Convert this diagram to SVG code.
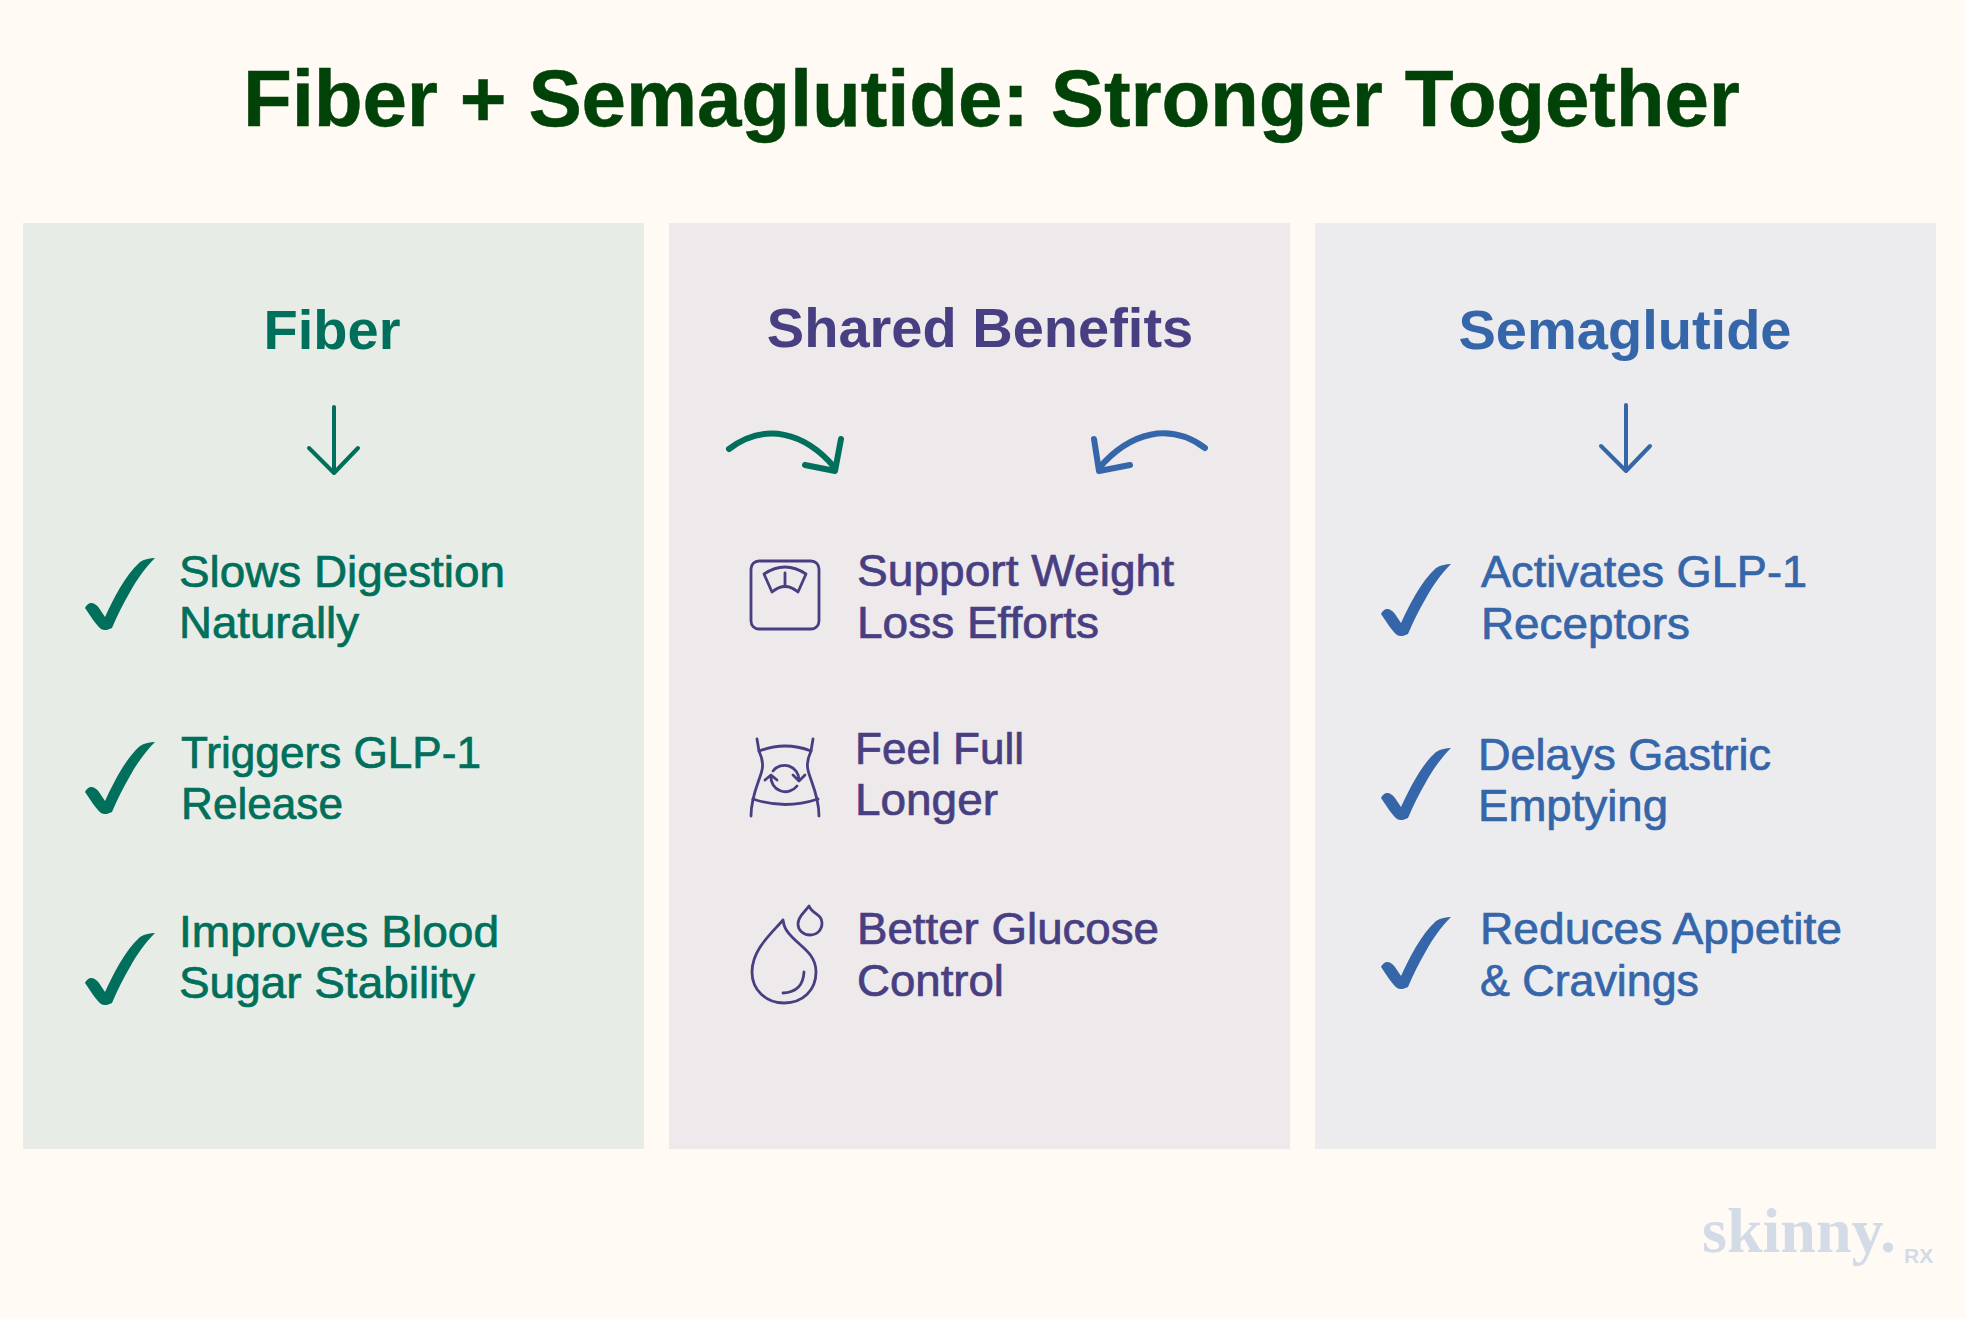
<svg xmlns="http://www.w3.org/2000/svg" width="1965" height="1318" viewBox="0 0 1965 1318">
<style>
text{font-family:"Liberation Sans",Arial,sans-serif}
.t{font-size:80px;font-weight:700;fill:#004207;stroke:#004207;stroke-width:.5}
.h{font-size:56px;font-weight:700;text-anchor:middle}
.b{font-size:43.500px;stroke-width:.7}
.g{fill:#006f5c;stroke:#006f5c}
.p{fill:#483f82;stroke:#483f82}
.u{fill:#3666aa;stroke:#3666aa}
.h.g,.h.p,.h.u,.n{stroke-width:0}
.ln{fill:none;stroke-linecap:round;stroke-linejoin:round}
.ic{fill:none;stroke:#483f82;stroke-width:2.8;stroke-linecap:round;stroke-linejoin:round}
</style>
<defs>
<path id="chk" d="M105 617C113 600 125 575 140 562C145 559 150 558 155 558C146 567 137 579 130 592C123 604 117 616 112 628C108 630 104 631 101 629C96 625 90 615 85 608C86 605 89 603 91 603C94 603 97 605 99 608Z"/>
</defs>
<rect width="1965" height="1318" fill="#fffaf4"/>
<text class="t" x="243" y="126" textLength="1497">Fiber + Semaglutide: Stronger Together</text>
<g id="panel-fiber">
<rect x="23" y="223" width="621" height="926" fill="#e7ede6"/>
<text class="h g" x="332" y="349">Fiber</text>
<use href="#chk" class="g n"/>
<use href="#chk" y="184" class="g n"/>
<use href="#chk" y="375" class="g n"/>
<text class="b g" x="179" y="587" textLength="326" lengthAdjust="spacingAndGlyphs">Slows Digestion</text>
<text class="b g" x="179" y="638" textLength="180" lengthAdjust="spacingAndGlyphs">Naturally</text>
<text class="b g" x="181" y="768" textLength="300" lengthAdjust="spacingAndGlyphs">Triggers GLP-1</text>
<text class="b g" x="181" y="819" textLength="162" lengthAdjust="spacingAndGlyphs">Release</text>
<text class="b g" x="179" y="947" textLength="320" lengthAdjust="spacingAndGlyphs">Improves Blood</text>
<text class="b g" x="179" y="998" textLength="296" lengthAdjust="spacingAndGlyphs">Sugar Stability</text>
</g>
<g id="panel-shared">
<rect x="669" y="223" width="621" height="926" fill="#eee9ea"/>
<text class="h p" x="980" y="347">Shared Benefits</text>
<g id="icon-scale" class="ic">
<rect x="751" y="561" width="68" height="68" rx="8"/>
<path d="M764 574Q785 560 806 574L798 592Q785 581 772 592Z"/>
<path d="M785 573V586"/>
</g>
<g id="icon-waist" class="ic">
<path d="M757 739Q758 745 759 751Q764 762 762 770C760 780 751 795 751 816"/>
<path d="M813 739Q812 745 811 751Q806 762 808 770C810 780 819 795 819 816"/>
<path d="M759 751Q785 741 811 751"/>
<path d="M753 799Q785 810 818 799"/>
<path d="M773 771A14.500 14.500 0 0 1 799 780M793 775L799 781L805 775"/>
<path d="M797 786A14.500 14.500 0 0 1 771 776M765 780L771 775L777 780"/>
</g>
<g id="icon-drop" class="ic">
<path d="M783 920C770 935 752 950 752 972C752 990 766 1003 784 1003C803 1003 816 990 816 972C816 955 803 948 793 938C787 932 784 928 783 920Z"/>
<path d="M804 972Q803 992 783 993"/>
<path d="M809 906C805 912 798 916 798 924C798 930 803 935 810 935C817 935 822 930 822 923C822 914 812 914 809 906Z"/>
</g>
<text class="b p" x="857" y="586" textLength="317" lengthAdjust="spacingAndGlyphs">Support Weight</text>
<text class="b p" x="857" y="638" textLength="242" lengthAdjust="spacingAndGlyphs">Loss Efforts</text>
<text class="b p" x="855" y="764" textLength="169" lengthAdjust="spacingAndGlyphs">Feel Full</text>
<text class="b p" x="855" y="815" textLength="143" lengthAdjust="spacingAndGlyphs">Longer</text>
<text class="b p" x="857" y="944" textLength="302" lengthAdjust="spacingAndGlyphs">Better Glucose</text>
<text class="b p" x="857" y="996" textLength="147" lengthAdjust="spacingAndGlyphs">Control</text>
</g>
<g id="panel-semaglutide">
<rect x="1315" y="223" width="621" height="926" fill="#ececee"/>
<text class="h u" x="1625" y="349">Semaglutide</text>
<use href="#chk" x="1296" y="6" class="u n"/>
<use href="#chk" x="1296" y="190" class="u n"/>
<use href="#chk" x="1296" y="359" class="u n"/>
<text class="b u" x="1481" y="587" textLength="326" lengthAdjust="spacingAndGlyphs">Activates GLP-1</text>
<text class="b u" x="1481" y="639" textLength="209" lengthAdjust="spacingAndGlyphs">Receptors</text>
<text class="b u" x="1478" y="770" textLength="293" lengthAdjust="spacingAndGlyphs">Delays Gastric</text>
<text class="b u" x="1478" y="821" textLength="190" lengthAdjust="spacingAndGlyphs">Emptying</text>
<text class="b u" x="1480" y="944" textLength="362" lengthAdjust="spacingAndGlyphs">Reduces Appetite</text>
<text class="b u" x="1480" y="996" textLength="219" lengthAdjust="spacingAndGlyphs">&amp; Cravings</text>
</g>
<g id="connectors">
<path class="ln" style="stroke:#006f5c" stroke-width="4" d="M334 407V473M309 448L334 473L358 448"/>
<path class="ln" style="stroke:#3666aa" stroke-width="4" d="M1626 405V471M1601 446L1626 471L1650 446"/>
<path class="ln" style="stroke:#006f5c" stroke-width="6" d="M729 449C765 422 805 432 835 468M841 439L835 471L805 465"/>
<path class="ln" style="stroke:#3666aa" stroke-width="6" d="M1205 448C1170 422 1130 432 1099 468M1094 439L1099 471L1130 465"/>
</g>
<g id="logo">
<text x="1702" y="1252" style="font-family:'Liberation Serif',serif;font-weight:700;font-size:64px" fill="#d3dbe7">skinny.</text>
<text x="1904" y="1263" style="font-weight:700;font-size:21px" fill="#d3dbe7">RX</text>
</g>
</svg>
